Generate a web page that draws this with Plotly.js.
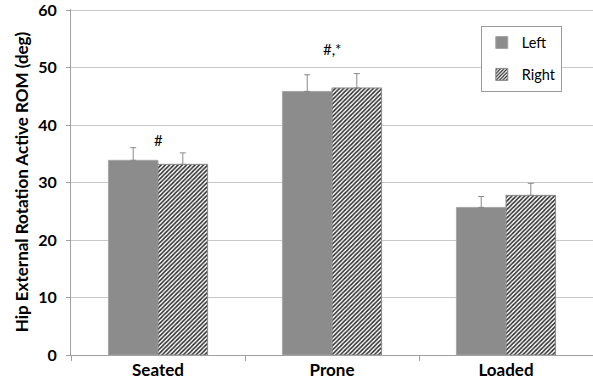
<!DOCTYPE html>
<html>
<head>
<meta charset="utf-8">
<script src="https://cdn.plot.ly/plotly-3.0.1.min.js"></script>
<style>html,body{margin:0;padding:0;background:#fff;}#chart{width:593px;height:392px;}</style>
</head>
<body>
<div id="chart"></div>
<script>
const categories = ["Seated", "Prone", "Loaded"];
const leftValues = [33.9, 45.9, 25.7];
const leftErrors = [2.2, 2.9, 1.9];
const rightValues = [33.2, 46.5, 27.8];
const rightErrors = [2.0, 2.5, 2.1];
const yTicks = [0, 10, 20, 30, 40, 50, 60];
const marks = [{cat: "Seated", y: 37.5, text: "#"}, {cat: "Prone", y: 53.3, text: "#,*"}];

const FONT = "Lato, Open Sans, sans-serif";

const traces = [
  {
    type: "bar", name: "Left", legendgroup: "L", x: categories, y: leftValues,
    marker: {color: "#8c8c8c", line: {color: "#a6a6a6", width: 1}},
    error_y: {type: "data", symmetric: false, array: leftErrors, arrayminus: [0,0,0], color: "#8a8a8a", thickness: 1, width: 3}
  },
  {
    type: "bar", name: "Right", legendgroup: "R", x: categories, y: rightValues,
    marker: {color: "#ffffff", line: {color: "#8a8a8a", width: 1},
      pattern: {shape: "/", fgcolor: "#2a2a2a", bgcolor: "#ffffff", size: 3, solidity: 0.5}},
    error_y: {type: "data", symmetric: false, array: rightErrors, arrayminus: [0,0,0], color: "#8a8a8a", thickness: 1, width: 3}
  }
];

const layout = {
  width: 593, height: 392,
  margin: {l: 71, r: 0, t: 9, b: 37},
  paper_bgcolor: "#fff", plot_bgcolor: "#fff",
  barmode: "group", bargap: 0.43, bargroupgap: 0,
  font: {family: FONT, color: "#000"},
  showlegend: true,
  legend: {
    x: 0.785, y: 0.952, xanchor: "left", yanchor: "top",
    bordercolor: "#9a9a9a", borderwidth: 1, bgcolor: "#fff",
    font: {family: FONT, size: 14.5, color: "#000"},
    traceorder: "grouped", tracegroupgap: 10, itemwidth: 30
  },
  xaxis: {
    type: "category", showline: true, linecolor: "#a0a0a0", linewidth: 1,
    ticks: "outside", tickson: "boundaries", ticklen: 5, tickcolor: "#a0a0a0",
    tickfont: {family: FONT, size: 17, color: "#000", weight: "bold"},
    showgrid: false, fixedrange: true
  },
  yaxis: {
    range: [0, 60.25], tickvals: yTicks, ticktext: yTicks.map(String),
    showline: true, linecolor: "#a0a0a0", linewidth: 1,
    ticks: "outside", ticklen: 4, tickcolor: "#a0a0a0", ticklabelstandoff: 6,
    showgrid: true, gridcolor: "#c8c8c8", gridwidth: 1, zeroline: false,
    tickfont: {family: FONT, size: 16, color: "#000", weight: "bold"},
    title: {text: "Hip External Rotation Active ROM (deg)", font: {family: FONT, size: 17, color: "#000", weight: "bold"}, standoff: 5},
    fixedrange: true
  },
  annotations: marks.map(m => ({
    x: m.cat, y: m.y, xref: "x", yref: "y", text: m.text, showarrow: false,
    font: {family: FONT, size: 15, color: "#000"}
  }))
};

Plotly.newPlot("chart", traces, layout, {staticPlot: true, displayModeBar: false});
</script>
</body>
</html>
